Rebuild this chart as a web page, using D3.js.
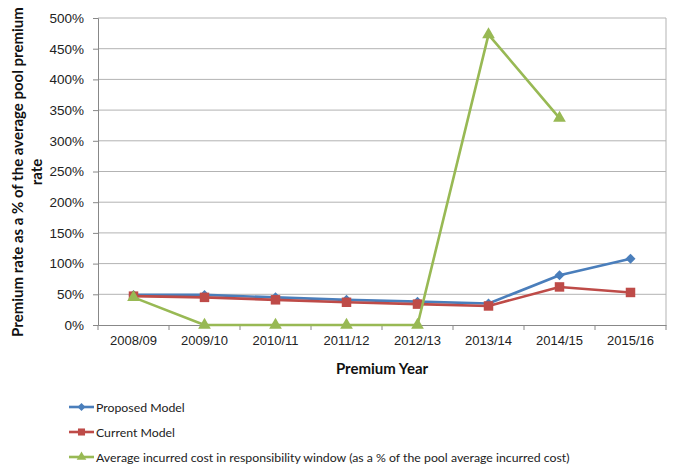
<!DOCTYPE html>
<html>
<head>
<meta charset="utf-8">
<script src="https://cdn.jsdelivr.net/npm/d3@7"></script>
<style>
  html, body { margin: 0; padding: 0; background: #fff; }
  svg { display: block; font-family: Lato, "Open Sans", sans-serif; }
</style>
</head>
<body>
<svg id="chart" width="682" height="465"></svg>
<script>
// Premium years on the category axis
const years = ["2008/09", "2009/10", "2010/11", "2011/12", "2012/13", "2013/14", "2014/15", "2015/16"];
// Premium rates as a share of the average pool premium rate (%)
const proposedModel = [49, 49, 45, 41, 38, 35, 81, 108];
const currentModel = [47, 45, 41, 37, 34, 31, 62, 53];
// Average incurred cost in the responsibility window (%); no value for 2015/16
const incurredCost = [45, 0, 0, 0, 0, 473, 337, null];
const yTicks = [0, 50, 100, 150, 200, 250, 300, 350, 400, 450, 500];

const seriesList = [
  { name: "Proposed Model", values: proposedModel, color: "#4a7ebb", shape: "diamond" },
  { name: "Current Model", values: currentModel, color: "#be4b48", shape: "square" },
  { name: "Average incurred cost in responsibility window (as a % of the pool average incurred cost)", values: incurredCost, color: "#98b954", shape: "triangle" }
];

const svg = d3.select("#chart");
const plot = { left: 98, right: 666, top: 18, bottom: 325 };

const x = d3.scaleBand().domain(years).range([plot.left, plot.right]);
const y = d3.scaleLinear().domain([0, 500]).range([plot.bottom, plot.top]);

// Horizontal gridlines
svg.append("g").selectAll("line").data(yTicks.filter(d => d > 0)).join("line")
  .attr("x1", plot.left).attr("x2", plot.right)
  .attr("y1", d => y(d)).attr("y2", d => y(d))
  .attr("stroke", "#b3b3b3").attr("stroke-width", 1);

// Right border of the plot area
svg.append("line")
  .attr("x1", plot.right).attr("x2", plot.right)
  .attr("y1", plot.top).attr("y2", plot.bottom)
  .attr("stroke", "#b3b3b3");

// Y axis
const yAxis = svg.append("g").attr("transform", `translate(${plot.left},0)`)
  .call(d3.axisLeft(y).tickValues(yTicks).tickFormat(d => d + "%").tickSize(5).tickPadding(9));
yAxis.select(".domain").attr("stroke", "#888");
yAxis.selectAll(".tick line").attr("stroke", "#888");
yAxis.selectAll("text").attr("font-size", 13.5).attr("fill", "#222");

// X axis with ticks between categories
const xAxis = svg.append("g").attr("transform", `translate(0,${plot.bottom})`)
  .call(d3.axisBottom(x).tickSize(0).tickPadding(11));
xAxis.select(".domain").attr("stroke", "#888");
xAxis.selectAll("text").attr("font-size", 13).attr("fill", "#222");
svg.append("g").selectAll("line").data(years.concat(["end"])).join("line")
  .attr("x1", (d, i) => plot.left + i * x.step())
  .attr("x2", (d, i) => plot.left + i * x.step())
  .attr("y1", plot.bottom).attr("y2", plot.bottom + 5)
  .attr("stroke", "#888");

// Axis titles
svg.append("text")
  .attr("x", (plot.left + plot.right) / 2).attr("y", 374)
  .attr("text-anchor", "middle").attr("font-weight", "bold").attr("font-size", 15)
  .attr("fill", "#111").text("Premium Year");

const yTitle = svg.append("text")
  .attr("transform", "translate(23,172) rotate(-90)")
  .attr("text-anchor", "middle").attr("font-weight", "bold").attr("font-size", 15)
  .attr("fill", "#111");
yTitle.append("tspan").attr("x", 0).attr("dy", 0).text("Premium rate as a % of the average pool premium");
yTitle.append("tspan").attr("x", 0).attr("dy", 19).text("rate");

// Marker symbols
function symbolFor(shape) {
  if (shape === "diamond") return d3.symbol().type(d3.symbolDiamond2).size(64)();
  if (shape === "square") return d3.symbol().type(d3.symbolSquare).size(90)();
  return d3.symbol().type(d3.symbolTriangle).size(70)();
}

const line = d3.line()
  .defined(d => d.v !== null)
  .x(d => x(d.year) + x.bandwidth() / 2)
  .y(d => y(d.v));

seriesList.forEach(s => {
  const pts = years.map((year, i) => ({ year, v: s.values[i] }));
  svg.append("path").datum(pts)
    .attr("d", line).attr("fill", "none")
    .attr("stroke", s.color).attr("stroke-width", 2.6).attr("stroke-linejoin", "round");
  svg.append("g").selectAll("path").data(pts.filter(d => d.v !== null)).join("path")
    .attr("transform", d => `translate(${x(d.year) + x.bandwidth() / 2},${y(d.v)})`)
    .attr("d", symbolFor(s.shape)).attr("fill", s.color);
});

// Legend
const legend = svg.append("g");
seriesList.forEach((s, i) => {
  const ly = 407 + i * 25;
  legend.append("line").attr("x1", 69).attr("x2", 94).attr("y1", ly).attr("y2", ly)
    .attr("stroke", s.color).attr("stroke-width", 2.6);
  const sym = s.shape === "diamond" ? d3.symbol().type(d3.symbolDiamond2).size(40)()
    : s.shape === "square" ? d3.symbol().type(d3.symbolSquare).size(50)()
    : d3.symbol().type(d3.symbolTriangle).size(40)();
  legend.append("path").attr("transform", `translate(81.5,${ly})`).attr("d", sym).attr("fill", s.color);
  legend.append("text").attr("x", 96).attr("y", ly + 4.5)
    .attr("font-size", 12.3).attr("fill", "#222").text(s.name);
});
</script>
</body>
</html>
